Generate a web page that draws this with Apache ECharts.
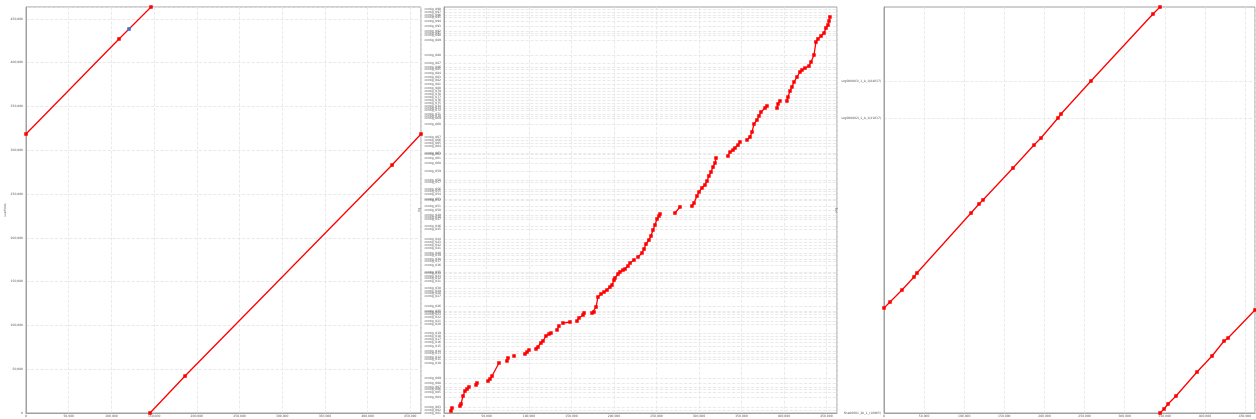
<!DOCTYPE html>
<html>
<head>
<meta charset="utf-8">
<script src="https://cdn.jsdelivr.net/npm/echarts@6.0.0/dist/echarts.min.js"></script>
<style>
  html, body { margin: 0; padding: 0; background: #fff; }
  #chart { width: 1256px; height: 419px; }
</style>
</head>
<body>
<div id="chart"></div>
<script>
// genome length on every axis (bp)
const refMax = 462500
const qryMax = 463500

// panel 1: reference vs scaffolds, '-' breaks the line
const scafForward = [
  [0, 318500], [108900, 427000], [146400, 463500], '-',
  [145200, 0], [186200, 42200], [428600, 283100], [462500, 318500]
]
const scafReverse = [[120600, 438400]]

// panel 2: reference vs contigs
const ctgHits = [
  [8200, 2300], [9400, 5700], '-',
  [18800, 8000], [20000, 10300], [22400, 19400], [24700, 25100], [27100, 27400], [29400, 29700], '-',
  [37700, 32000], [38800, 34200], '-',
  [51800, 36500], [54100, 38800], [56500, 42200], [64700, 57100], '-',
  [74100, 59400], [75300, 62800], '-',
  [82400, 65100], '-',
  [95300, 67400], [97700, 69600], [100000, 71900], '-',
  [108300, 73100], [110600, 75300], [114100, 79900], [116500, 82200], [120000, 87900], [123600, 90200], [125900, 91300], '-',
  [133000, 94800], [135300, 99300], '-',
  [140000, 102700], [148300, 103900], '-',
  [156500, 105000], [158900, 108500], [163600, 111900], [164800, 114200], '-',
  [174200, 114200], [176500, 115300], [178900, 121000], [181200, 132400], [184800, 135900], '-',
  [188300, 138100], [191800, 140400], [195300, 143800], [197700, 146100], [200100, 151800], [201200, 154100],
  [204800, 158700], [207100, 161000], [210600, 163200], [213000, 164400], [216500, 167800], '-',
  [218900, 171200], [223600, 174700], '-',
  [228300, 178100], [233000, 182700], [235400, 187200], [237700, 192900], [241200, 197500], [243600, 202100],
  [245900, 208900], [248300, 214600], [250700, 221500], [253000, 224900], [254200, 227200], '-',
  [271800, 228300], [277700, 235200], '-',
  [291800, 236300], [294200, 239700], [297700, 247700], [300100, 252300], [303600, 256900], [307100, 260300],
  [309500, 264800], [311800, 270600], [314200, 275100], [316600, 280800], [318900, 285400], [320100, 291100], '-',
  [334200, 293400], [336600, 297900], [340100, 300200], [342400, 302500], [346000, 305900], [348300, 309400], '-',
  [356600, 311700], [360100, 315100], [362500, 320800], [364800, 329900], [368300, 334500], [370700, 339100],
  [373000, 343600], [377800, 348200], [380100, 350500], '-',
  [391900, 348200], [393100, 352800], [395400, 356200], '-',
  [403600, 356200], [404800, 360700], [407200, 367600], [409500, 372200], [411900, 377900], [415400, 383600],
  [418900, 389300], [421300, 391600], [424800, 393800], [429500, 396100], [431900, 400700], [435400, 408700],
  [437700, 423500], [440100, 427000], [443700, 430400], [447200, 433800], [449500, 439500], [451900, 442900],
  [453100, 447500], [454200, 452100]
]

// contig start offsets on the panel 2 y axis
const ctgStarts = [
  0, 3400, 6800, 18300, 24000, 27400, 29700, 34200, 40000, 57100, 61600, 63900, 68500, 70800, 76500,
  81100, 84500, 87900, 91300, 101600, 105000, 109600, 113000, 115300, 116400, 122200, 133600, 137000,
  139300, 142700, 150700, 154100, 156400, 159800, 161000, 169000, 173500, 175800, 180400, 182700, 188400,
  191800, 195200, 198600, 210100, 213500, 221500, 223800, 226000, 231700, 236300, 243200, 244300, 250000,
  253400, 255700, 263700, 266000, 276300, 285400, 291100, 295700, 296800, 304800, 308200, 311700, 315100,
  329900, 336800, 339100, 341300, 345900, 348200, 350500, 353900, 357300, 360700, 364200, 367600, 371000,
  375600, 380200, 383600, 388100, 392700, 395000, 399600, 408700, 425800, 431500, 433800, 436100, 441800,
  447500, 452100, 454400, 457800, 461200
]
const ctgNames = ctgStarts.map((v, i) => 'contig_' + String(i + 1).padStart(3, '0'))

// panel 3: reference vs unitigs
const utgHits = [
  [0, 119900], [7500, 126700], [22400, 140400], [37400, 155300], [41100, 159800], [108500, 228300],
  [118400, 238600], [123400, 243200], [160800, 279700], [187000, 305900], [195700, 313900], [216900, 336800],
  [220600, 341300], [258000, 379000], [335300, 455500], [344100, 463500], '-',
  [344100, 0], [349100, 4600], [354100, 10300], [364000, 19400], [390200, 46800], [408900, 65100],
  [423900, 82200], [428900, 85600], [462500, 117600]
]
const utgStarts = [0, 336800, 379000]
const utgNames = ['Sha00001_2b_1_(10965)', 'utg000002l_1_A_1(41037)', 'utg000003l_1_A_1(84037)']

const grey = '#a0a0a0'
const tiny = { fontSize: 3, color: '#555', fontFamily: 'DejaVu Sans' }

function xAxisOf(idx, name) {
  return {
    gridIndex: idx,
    type: 'value',
    min: 0,
    max: refMax,
    interval: 50000,
    name: name,
    nameLocation: 'middle',
    nameGap: 4,
    nameTextStyle: tiny,
    axisLine: { lineStyle: { color: grey } },
    axisTick: { show: false },
    axisLabel: Object.assign({ margin: 2, showMaxLabel: false }, tiny),
    splitLine: { lineStyle: { color: '#e4e4e4', type: 'dashed', width: 0.8 } }
  }
}

function yAxisOf(idx, name, starts, names) {
  const axis = {
    gridIndex: idx,
    type: 'value',
    min: 0,
    max: qryMax,
    name: name,
    nameLocation: 'middle',
    nameGap: 13,
    nameRotate: 90,
    nameTextStyle: tiny,
    axisLine: { show: true, lineStyle: { color: grey } },
    axisTick: { show: false },
    axisLabel: Object.assign({ margin: 3 }, tiny),
    splitLine: { lineStyle: { color: '#e4e4e4', type: 'dashed', width: 0.8 } }
  }
  if (starts) {
    axis.axisTick = { show: false, customValues: starts }
    axis.axisLabel = Object.assign({
      margin: 3,
      customValues: starts,
      formatter: (v) => names[starts.indexOf(v)]
    }, tiny)
    axis.nameGap = idx === 1 ? 14 : 37
  } else {
    axis.interval = 50000
    axis.axisLabel.showMaxLabel = false
  }
  return axis
}

function hitSeries(idx, data, color) {
  return {
    type: 'line',
    xAxisIndex: idx,
    yAxisIndex: idx,
    data: data,
    symbol: 'rect',
    symbolSize: 3.5,
    showAllSymbol: true,
    connectNulls: false,
    animation: false,
    lineStyle: { color: color, width: 1.3 },
    itemStyle: { color: color }
  }
}

const chart = echarts.init(document.getElementById('chart'))
chart.setOption({
  backgroundColor: '#fff',
  animation: false,
  grid: [
    { left: 26, right: 835, top: 7, bottom: 6, show: true, borderColor: grey, borderWidth: 1, outerBoundsMode: 'none' },
    { left: 444, right: 419, top: 7, bottom: 6, show: true, borderColor: grey, borderWidth: 1, outerBoundsMode: 'none' },
    { left: 884, right: 1, top: 7, bottom: 6, show: true, borderColor: grey, borderWidth: 1, outerBoundsMode: 'none' }
  ],
  xAxis: [
    xAxisOf(0, 'reference genome (bp)'),
    xAxisOf(1, 'reference genome (bp)'),
    xAxisOf(2, 'reference genome (bp)')
  ],
  yAxis: [
    yAxisOf(0, 'scaffolds'),
    yAxisOf(1, 'ctg', ctgStarts, ctgNames),
    yAxisOf(2, 'utg', utgStarts, utgNames)
  ],
  series: [
    hitSeries(0, scafForward, '#ff0000'),
    hitSeries(0, scafReverse, '#3a6fd8'),
    hitSeries(1, ctgHits, '#ff0000'),
    hitSeries(2, utgHits, '#ff0000')
  ]
})
</script>
</body>
</html>
